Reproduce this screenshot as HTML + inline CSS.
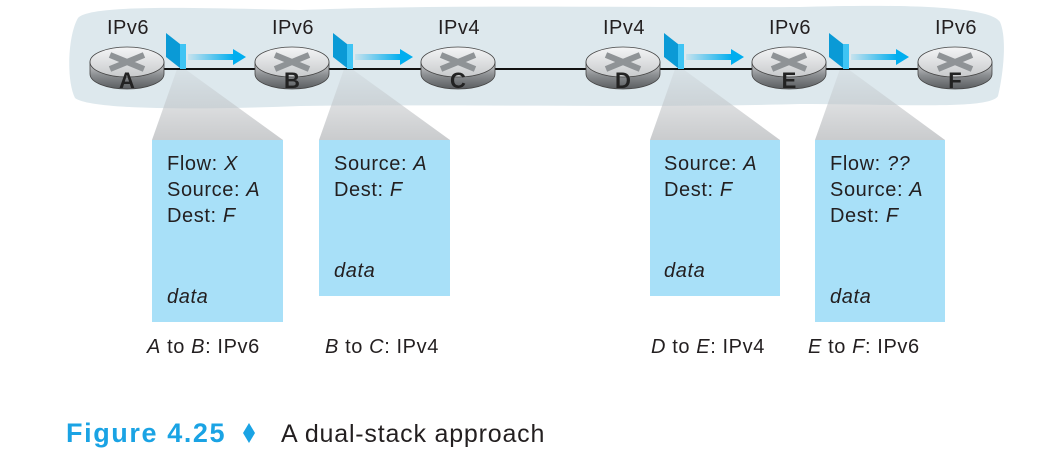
<!DOCTYPE html>
<html><head><meta charset="utf-8"><style>
html,body{margin:0;padding:0;background:#fff;width:1059px;height:463px;overflow:hidden}
text{font-family:"Liberation Sans",sans-serif}
</style></head><body>
<svg width="1059" height="463" viewBox="0 0 1059 463" xmlns="http://www.w3.org/2000/svg">
<defs>
<linearGradient id="cone" x1="0" y1="0" x2="0" y2="1">
<stop offset="0" stop-color="#b8bcc0" stop-opacity="0.15"/>
<stop offset="1" stop-color="#c4c6c8" stop-opacity="0.9"/>
</linearGradient>
<linearGradient id="arr" x1="0" y1="0" x2="1" y2="0">
<stop offset="0" stop-color="#00aeef" stop-opacity="0.1"/>
<stop offset="1" stop-color="#00aeef"/>
</linearGradient>
<linearGradient id="side" x1="0" y1="0" x2="0" y2="1">
<stop offset="0" stop-color="#d0d2d4"/>
<stop offset="0.5" stop-color="#8a8d90"/>
<stop offset="1" stop-color="#5a5d60"/>
</linearGradient>
<linearGradient id="topg" x1="0" y1="0" x2="0" y2="1">
<stop offset="0" stop-color="#f4f5f6"/>
<stop offset="1" stop-color="#c8cacc"/>
</linearGradient>
<g id="router">
<path d="M-37,0 L-37,12 A37,15 0 0 0 37,12 L37,0 Z" fill="url(#side)" stroke="#444" stroke-width="0.8"/>
<ellipse cx="0" cy="0" rx="37" ry="15" fill="url(#topg)" stroke="#444" stroke-width="0.8"/>
<path d="M-17,-7 L17,7 M17,-7 L-17,7" stroke="#8f9396" stroke-width="6"/>
</g>
<g id="pkt">
<polygon points="0,0 14,11 14,35 0,24" fill="#0a9ad6"/>
<rect x="14" y="11" width="6" height="25" fill="#3fc4f4"/>
</g>
</defs>
<path d="M78,18 C90,4 200,8 300,10 C450,4 650,8 800,7 C900,4 990,6 1000,22 C1008,40 1002,80 998,96 C990,110 900,104 800,104 C650,108 450,104 300,106 C200,110 90,110 75,98 C66,80 68,35 78,18 Z" fill="#dde8ed"/>
<polygon points="177,69 185,69 283,140 152,140" fill="url(#cone)"/>
<polygon points="344,69 352,69 450,140 319,140" fill="url(#cone)"/>
<polygon points="675,69 683,69 780,140 650,140" fill="url(#cone)"/>
<polygon points="840,69 848,69 945,140 815,140" fill="url(#cone)"/>
<line x1="127" y1="69" x2="955" y2="69" stroke="#111" stroke-width="2"/>
<use href="#router" x="127" y="62"/>
<use href="#router" x="292" y="62"/>
<use href="#router" x="458" y="62"/>
<use href="#router" x="623" y="62"/>
<use href="#router" x="789" y="62"/>
<use href="#router" x="955" y="62"/>
<g font-weight="bold" font-size="22" fill="#222" text-anchor="middle">
<text x="127" y="88">A</text><text x="292" y="88">B</text><text x="458" y="88">C</text>
<text x="623" y="88">D</text><text x="789" y="88">E</text><text x="955" y="88">F</text>
</g>
<g font-size="20" fill="#231f20" text-anchor="middle" letter-spacing="0.5">
<text x="128" y="34">IPv6</text><text x="293" y="34">IPv6</text><text x="459" y="34">IPv4</text>
<text x="624" y="34">IPv4</text><text x="790" y="34">IPv6</text><text x="956" y="34">IPv6</text>
</g>
<use href="#pkt" x="166" y="33"/>
<use href="#pkt" x="333" y="33"/>
<use href="#pkt" x="664" y="33"/>
<use href="#pkt" x="829" y="33"/>
<g>
<rect x="188" y="54" width="46" height="6" fill="url(#arr)"/><polygon points="233,49 246,57 233,65" fill="#00aeef"/>
<rect x="355" y="54" width="46" height="6" fill="url(#arr)"/><polygon points="400,49 413,57 400,65" fill="#00aeef"/>
<rect x="686" y="54" width="46" height="6" fill="url(#arr)"/><polygon points="731,49 744,57 731,65" fill="#00aeef"/>
<rect x="851" y="54" width="46" height="6" fill="url(#arr)"/><polygon points="896,49 909,57 896,65" fill="#00aeef"/>
</g>
<rect x="152" y="140" width="131" height="182" fill="#a8e0f8"/>
<rect x="319" y="140" width="131" height="156" fill="#a8e0f8"/>
<rect x="650" y="140" width="130" height="156" fill="#a8e0f8"/>
<rect x="815" y="140" width="130" height="182" fill="#a8e0f8"/>
<g font-size="20" fill="#231f20" letter-spacing="0.6">
<text x="167" y="170">Flow: <tspan font-style="italic">X</tspan></text>
<text x="167" y="196">Source: <tspan font-style="italic">A</tspan></text>
<text x="167" y="222">Dest: <tspan font-style="italic">F</tspan></text>
<text x="167" y="303" font-style="italic">data</text>
<text x="334" y="170">Source: <tspan font-style="italic">A</tspan></text>
<text x="334" y="196">Dest: <tspan font-style="italic">F</tspan></text>
<text x="334" y="277" font-style="italic">data</text>
<text x="664" y="170">Source: <tspan font-style="italic">A</tspan></text>
<text x="664" y="196">Dest: <tspan font-style="italic">F</tspan></text>
<text x="664" y="277" font-style="italic">data</text>
<text x="830" y="170">Flow: <tspan font-style="italic">??</tspan></text>
<text x="830" y="196">Source: <tspan font-style="italic">A</tspan></text>
<text x="830" y="222">Dest: <tspan font-style="italic">F</tspan></text>
<text x="830" y="303" font-style="italic">data</text>
<text x="147" y="353"><tspan font-style="italic">A</tspan> to <tspan font-style="italic">B</tspan>: IPv6</text>
<text x="325" y="353"><tspan font-style="italic">B</tspan> to <tspan font-style="italic">C</tspan>: IPv4</text>
<text x="651" y="353"><tspan font-style="italic">D</tspan> to <tspan font-style="italic">E</tspan>: IPv4</text>
<text x="808" y="353"><tspan font-style="italic">E</tspan> to <tspan font-style="italic">F</tspan>: IPv6</text>
</g>
<text x="66" y="442" font-size="27" font-weight="bold" fill="#1aa3e4" letter-spacing="1.6">Figure 4.25</text>
<polygon points="249,423 255,433 249,443 243,433" fill="#1aa3e4"/>
<text x="281" y="442" font-size="25" fill="#231f20" letter-spacing="0.8">A dual-stack approach</text>
</svg>
</body></html>
